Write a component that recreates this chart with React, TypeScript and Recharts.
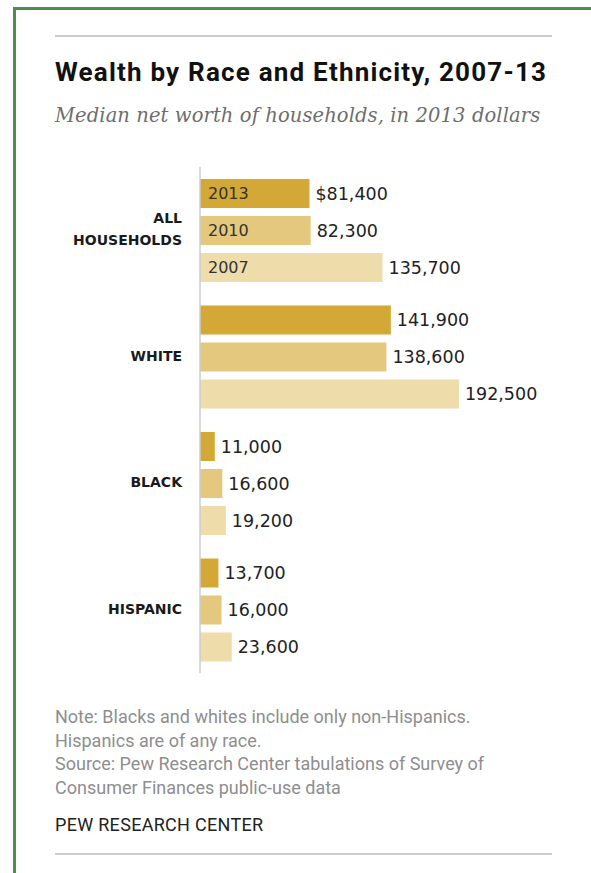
import React from 'react';
import { BarChart, Bar, XAxis, YAxis, LabelList } from 'recharts';

// median net worth, 2013 dollars
const groups = ['ALL HOUSEHOLDS', 'WHITE', 'BLACK', 'HISPANIC'];
const worth2013 = [81400, 141900, 11000, 13700];
const worth2010 = [82300, 138600, 16600, 16000];
const worth2007 = [135700, 192500, 19200, 23600];
const years = ['2013', '2010', '2007'];

const data = groups.map((group, i) => ({
  group,
  y2013: worth2013[i],
  y2010: worth2010[i],
  y2007: worth2007[i]
}));

const series = [
  { key: 'y2013', year: years[0], color: '#d4a836' },
  { key: 'y2010', year: years[1], color: '#e3c87e' },
  { key: 'y2007', year: years[2], color: '#eedcab' }
];

const sans = 'DejaVu Sans, sans-serif';

const fmt = (v: number) => v.toLocaleString('en-US');

function valueLabel(seriesKey: string) {
  return (props: any) => {
    const { x, y, width, height, value, index } = props;
    const text = seriesKey === 'y2013' && index === 0 ? `$${fmt(value)}` : fmt(value);
    return (
      <text
        x={x + width + 6}
        y={y + height / 2}
        dominantBaseline="central"
        fontFamily={sans}
        fontSize={17.5}
        fill="#222"
      >
        {text}
      </text>
    );
  };
}

function yearLabel(year: string) {
  return (props: any) => {
    const { x, y, height, index } = props;
    if (index !== 0) return null;
    return (
      <text
        x={x + 8}
        y={y + height / 2}
        dominantBaseline="central"
        fontFamily={sans}
        fontSize={16}
        fill="#333"
      >
        {year}
      </text>
    );
  };
}

function GroupTick(props: any) {
  const { x, y, payload } = props;
  const lines = payload.value === 'ALL HOUSEHOLDS' ? ['ALL', 'HOUSEHOLDS'] : [payload.value];
  const lh = 22;
  const top = y - 1 - ((lines.length - 1) * lh) / 2;
  return (
    <g>
      {lines.map((l: string, i: number) => (
        <text
          key={l}
          x={x}
          y={top + i * lh}
          textAnchor="end"
          dominantBaseline="central"
          fontFamily={sans}
          fontWeight={700}
          fontSize={14}
          fill="#1a1a1a"
        >
          {l}
        </text>
      ))}
    </g>
  );
}

const abs = (style: React.CSSProperties): React.CSSProperties => ({ position: 'absolute', ...style });

export default function App() {
  return (
    <div style={abs({ left: 0, top: 0, width: 591, height: 873, background: '#fff', overflow: 'hidden' })}>
      <div
        style={abs({
          left: 13,
          top: 7,
          width: 600,
          height: 900,
          borderLeft: '3px solid #4f8c4f',
          borderTop: '3px solid #4f8c4f'
        })}
      />
      <div style={abs({ left: 55, top: 35, width: 497, height: 2, background: '#cccccc' })} />
      <div
        style={abs({
          left: 55,
          top: 58,
          fontFamily: 'Roboto, sans-serif',
          fontWeight: 700,
          fontSize: 26,
          letterSpacing: 1.2,
          lineHeight: '28px',
          color: '#111',
          whiteSpace: 'nowrap'
        })}
      >
        Wealth by Race and Ethnicity, 2007-13
      </div>
      <div
        style={abs({
          left: 55,
          top: 105,
          fontFamily: 'DejaVu Serif, serif',
          fontStyle: 'italic',
          fontSize: 19.5,
          letterSpacing: 0.1,
          lineHeight: '22px',
          color: '#6e6e6e',
          whiteSpace: 'nowrap'
        })}
      >
        Median net worth of households, in 2013 dollars
      </div>

      <div style={abs({ left: 0, top: 0 })}>
        <BarChart
          width={591}
          height={700}
          data={data}
          layout="vertical"
          margin={{ top: 167, right: 122, bottom: 27, left: 0 }}
          barSize={29}
          barGap={8}
        >
          <XAxis type="number" domain={[0, 200000]} hide />
          <YAxis
            type="category"
            dataKey="group"
            width={200}
            axisLine={{ stroke: '#cccccc', strokeWidth: 1.5 }}
            tickLine={false}
            tickSize={0}
            tickMargin={18}
            tick={<GroupTick />}
            interval={0}
          />
          {series.map((s) => (
            <Bar key={s.key} dataKey={s.key} fill={s.color} isAnimationActive={false}>
              <LabelList dataKey={s.key} content={valueLabel(s.key)} />
              <LabelList dataKey={s.key} content={yearLabel(s.year)} />
            </Bar>
          ))}
        </BarChart>
      </div>

      <div
        style={abs({
          left: 55,
          top: 705,
          fontFamily: 'Roboto, sans-serif',
          fontSize: 18,
          lineHeight: '23.7px',
          color: '#8e8e8e',
          whiteSpace: 'nowrap'
        })}
      >
        <div>Note: Blacks and whites include only non-Hispanics.</div>
        <div>Hispanics are of any race.</div>
        <div>Source: Pew Research Center tabulations of Survey of</div>
        <div>Consumer Finances public-use data</div>
      </div>
      <div
        style={abs({
          left: 55,
          top: 814,
          fontFamily: 'Roboto, sans-serif',
          fontSize: 18,
          letterSpacing: 0.3,
          lineHeight: '22px',
          color: '#222',
          whiteSpace: 'nowrap'
        })}
      >
        PEW RESEARCH CENTER
      </div>
      <div style={abs({ left: 55, top: 853, width: 497, height: 2, background: '#cccccc' })} />
    </div>
  );
}
